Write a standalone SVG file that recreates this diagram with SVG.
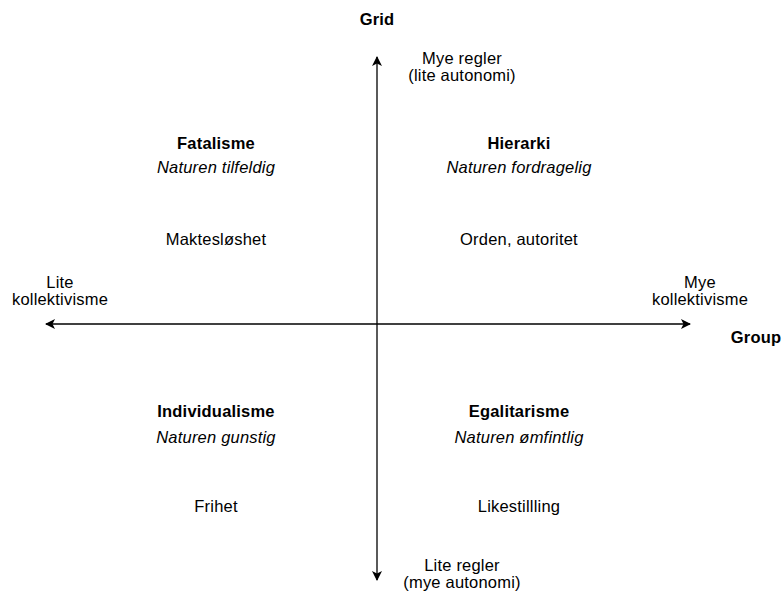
<svg xmlns="http://www.w3.org/2000/svg" width="783" height="593" viewBox="0 0 783 593">
  <style>
    text { font-family: "Liberation Sans", Arial, sans-serif; font-size: 16.5px; letter-spacing: 0.2px; fill: #000; text-anchor: middle; }
    .b { font-weight: bold; }
    .i { font-style: italic; }
    .axis { stroke: #000; stroke-width: 1.3; fill: none; }
  </style>
  <defs>
    <marker id="arrow" viewBox="0 0 10 10" refX="9" refY="5" markerWidth="10" markerHeight="10" markerUnits="userSpaceOnUse" orient="auto">
      <path d="M0,0 L10,5 L0,10 L2.5,5 Z" fill="#000"/>
    </marker>
  </defs>

  <g id="connectors">
    <line class="axis" x1="377" y1="324" x2="377" y2="57" marker-end="url(#arrow)"/>
    <line class="axis" x1="377" y1="324" x2="377" y2="580" marker-end="url(#arrow)"/>
    <line class="axis" x1="377" y1="324" x2="46" y2="324" marker-end="url(#arrow)"/>
    <line class="axis" x1="377" y1="324" x2="690" y2="324" marker-end="url(#arrow)"/>
  </g>

  <g id="axis-labels">
    <text class="b" x="377" y="25">Grid</text>
    <text x="462" y="64">Mye regler</text>
    <text x="462" y="81">(lite autonomi)</text>
    <text x="60" y="288">Lite</text>
    <text x="60" y="305">kollektivisme</text>
    <text x="700" y="288">Mye</text>
    <text x="700" y="305">kollektivisme</text>
    <text class="b" x="756" y="343">Group</text>
    <text x="462" y="571">Lite regler</text>
    <text x="462" y="588">(mye autonomi)</text>
  </g>

  <g id="fatalisme">
    <text class="b" x="216" y="149">Fatalisme</text>
    <text class="i" x="216" y="173">Naturen tilfeldig</text>
    <text x="216" y="245">Maktesløshet</text>
  </g>

  <g id="hierarki">
    <text class="b" x="519" y="149">Hierarki</text>
    <text class="i" x="519" y="173">Naturen fordragelig</text>
    <text x="519" y="245">Orden, autoritet</text>
  </g>

  <g id="individualisme">
    <text class="b" x="216" y="417">Individualisme</text>
    <text class="i" x="216" y="443">Naturen gunstig</text>
    <text x="216" y="512">Frihet</text>
  </g>

  <g id="egalitarisme">
    <text class="b" x="519" y="417">Egalitarisme</text>
    <text class="i" x="519" y="443">Naturen ømfintlig</text>
    <text x="519" y="512">Likestillling</text>
  </g>
</svg>
